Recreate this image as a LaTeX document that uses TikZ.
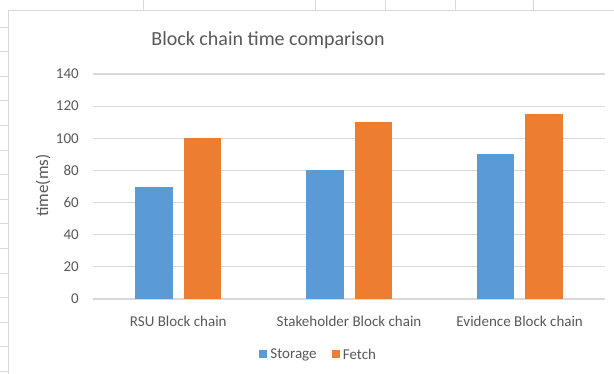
\documentclass[tikz,border=0pt]{standalone}
\usepackage{fontspec}
\setmainfont{Carlito}
\usepackage{xcolor}
\usepackage{tikz}
\usetikzlibrary{positioning}
\definecolor{xlblue}{HTML}{5B9BD5}
\definecolor{xlorange}{HTML}{ED7D31}
\definecolor{xlgrid}{HTML}{D9D9D9}
\definecolor{xltext}{HTML}{595959}

\begin{document}
\begin{tikzpicture}[x=1pt, y=-1pt,
  font=\fontsize{15}{18}\selectfont, text=xltext,
  grid/.style={draw=xlgrid, line width=1.2pt},
  sheet/.style={draw=xlgrid, line width=0.9pt},
  ticklbl/.style={anchor=east, inner sep=0pt},
  catlbl/.style={anchor=center, inner sep=0pt},
  storebar/.style={fill=xlblue},
  fetchbar/.style={fill=xlorange},
  legbox/.style={minimum size=8pt, inner sep=0pt}]

  \useasboundingbox[fill=white] (0,0) rectangle (614,374);

  % spreadsheet cells behind the chart
  \foreach \k in {0,...,14}
    \draw[sheet] (0,27+24.6*\k) -- (8,27+24.6*\k);
  \foreach \xx in {143,315,385,455,533}
    \draw[sheet] (\xx,0) -- (\xx,10);

  % chart frame
  \draw[sheet] (8,374) -- (8,10) -- (614,10);

  % title
  \node[font=\fontsize{20}{24}\selectfont] (title) at (268,40)
    {Block chain time comparison};

  % gridlines and value axis (0 at y=299, 1.607 per ms)
  \foreach \v in {0,20,...,140} {
    \draw[grid] (93,299-1.607*\v) -- (605,299-1.607*\v);
    \node[ticklbl] (tick\v) at (79,299-1.607*\v) {\v};
  }

  \node[rotate=90, font=\fontsize{17}{20}\selectfont] (ytitle) at (43,185.5) {time(ms)};

  % bars: storage / fetch per chain
  \foreach \c/\s/\f/\n [count=\i] in {178.3/70/100/RSU Block chain,
      349/80/110/Stakeholder Block chain, 519.7/90/115/Evidence Block chain} {
    \fill[storebar] (\c-43,299) rectangle (\c-5.5,299-1.607*\s);
    \fill[fetchbar] (\c+5.5,299) rectangle (\c+43,299-1.607*\f);
    \node[catlbl] (cat\i) at (\c,321) {\n};
  }

  % legend
  \node[legbox, fill=xlblue] (legS) at (263,354.5) {};
  \node[right=3pt of legS, inner sep=0pt] (legStxt) {Storage};
  \node[legbox, fill=xlorange] (legF) at (335.5,354.5) {};
  \node[right=3pt of legF, inner sep=0pt] (legFtxt) {Fetch};
\end{tikzpicture}
\end{document}
